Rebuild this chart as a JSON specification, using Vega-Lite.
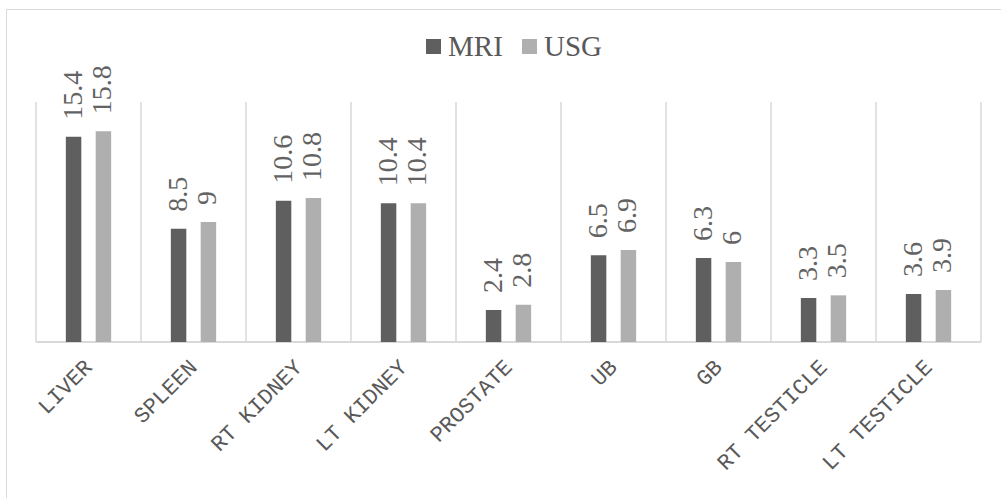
{
  "$schema": "https://vega.github.io/schema/vega-lite/v6.json",
  "width": 995,
  "height": 489,
  "autosize": {"type": "none"},
  "padding": {"left": 6, "top": 9, "right": 0, "bottom": 0},
  "background": "#ffffff",
  "datasets": {
    "readings": [
      {"organ": "LIVER", "method": "MRI", "size": 15.4},
      {"organ": "LIVER", "method": "USG", "size": 15.8},
      {"organ": "SPLEEN", "method": "MRI", "size": 8.5},
      {"organ": "SPLEEN", "method": "USG", "size": 9},
      {"organ": "RT KIDNEY", "method": "MRI", "size": 10.6},
      {"organ": "RT KIDNEY", "method": "USG", "size": 10.8},
      {"organ": "LT KIDNEY", "method": "MRI", "size": 10.4},
      {"organ": "LT KIDNEY", "method": "USG", "size": 10.4},
      {"organ": "PROSTATE", "method": "MRI", "size": 2.4},
      {"organ": "PROSTATE", "method": "USG", "size": 2.8},
      {"organ": "UB", "method": "MRI", "size": 6.5},
      {"organ": "UB", "method": "USG", "size": 6.9},
      {"organ": "GB", "method": "MRI", "size": 6.3},
      {"organ": "GB", "method": "USG", "size": 6},
      {"organ": "RT TESTICLE", "method": "MRI", "size": 3.3},
      {"organ": "RT TESTICLE", "method": "USG", "size": 3.5},
      {"organ": "LT TESTICLE", "method": "MRI", "size": 3.6},
      {"organ": "LT TESTICLE", "method": "USG", "size": 3.9}
    ]
  },
  "data": {"name": "readings"},
  "layer": [
    {
      "description": "category separators at the start of each band",
      "transform": [{"filter": "datum.method === 'MRI'"}],
      "mark": {"type": "rule", "color": "#d9d9d9", "strokeWidth": 1.5},
      "encoding": {
        "x": {"field": "organ", "type": "nominal", "bandPosition": 0, "title": null},
        "y": {"datum": 0, "type": "quantitative", "axis": null},
        "y2": {"datum": 18}
      }
    },
    {
      "description": "closing separator after the last category",
      "transform": [{"filter": "datum.method === 'MRI' && datum.organ === 'LT TESTICLE'"}],
      "mark": {"type": "rule", "color": "#d9d9d9", "strokeWidth": 1.5},
      "encoding": {
        "x": {"field": "organ", "type": "nominal", "bandPosition": 1, "title": null},
        "y": {"datum": 0, "type": "quantitative", "axis": null},
        "y2": {"datum": 18}
      }
    },
    {
      "description": "baseline, one full-width segment per category",
      "transform": [{"filter": "datum.method === 'MRI'"}],
      "mark": {"type": "bar", "color": "#d9d9d9"},
      "encoding": {
        "x": {"field": "organ", "type": "nominal", "title": null},
        "y": {"datum": 0.08, "type": "quantitative", "axis": null},
        "y2": {"datum": -0.08}
      }
    },
    {
      "mark": {"type": "bar"},
      "encoding": {
        "x": {
          "field": "organ",
          "type": "nominal",
          "title": null,
          "scale": {
            "domain": ["LIVER", "SPLEEN", "RT KIDNEY", "LT KIDNEY", "PROSTATE", "UB", "GB", "RT TESTICLE", "LT TESTICLE"],
            "paddingInner": 0,
            "paddingOuter": 0.2381,
            "align": 0.6
          },
          "axis": {
            "orient": "bottom",
            "offset": -156,
            "domain": false,
            "ticks": false,
            "grid": false,
            "labelAngle": -45,
            "labelFont": "Liberation Mono",
            "labelFontSize": 22,
            "labelColor": "#595959",
            "labelPadding": 21
          }
        },
        "xOffset": {
          "field": "method",
          "type": "nominal",
          "scale": {"paddingInner": 0.4815, "paddingOuter": 1.185}
        },
        "y": {
          "field": "size",
          "type": "quantitative",
          "axis": null,
          "scale": {"domain": [-11.7, 24.975], "nice": false, "zero": false}
        },
        "color": {
          "field": "method",
          "type": "nominal",
          "scale": {"domain": ["MRI", "USG"], "range": ["#5f5f5f", "#afafaf"]},
          "legend": {
            "orient": "none",
            "legendX": 413,
            "legendY": 23,
            "direction": "horizontal",
            "gridAlign": "none",
            "title": null,
            "padding": 0,
            "symbolType": "square",
            "symbolSize": 225,
            "symbolStrokeWidth": 0,
            "symbolOpacity": 1,
            "labelFont": "Liberation Serif",
            "labelFontSize": 29,
            "labelColor": "#595959",
            "labelOffset": 0,
            "columnPadding": 12
          }
        }
      }
    },
    {
      "mark": {
        "type": "text",
        "angle": 270,
        "align": "left",
        "baseline": "middle",
        "dx": 17,
        "font": "Liberation Serif",
        "fontSize": 28,
        "color": "#636363"
      },
      "encoding": {
        "x": {"field": "organ", "type": "nominal", "title": null},
        "xOffset": {"field": "method", "type": "nominal"},
        "y": {"field": "size", "type": "quantitative", "axis": null},
        "text": {"field": "size", "type": "quantitative", "format": "~g"}
      }
    }
  ],
  "config": {
    "view": {"stroke": "#d9d9d9", "strokeWidth": 1}
  }
}
